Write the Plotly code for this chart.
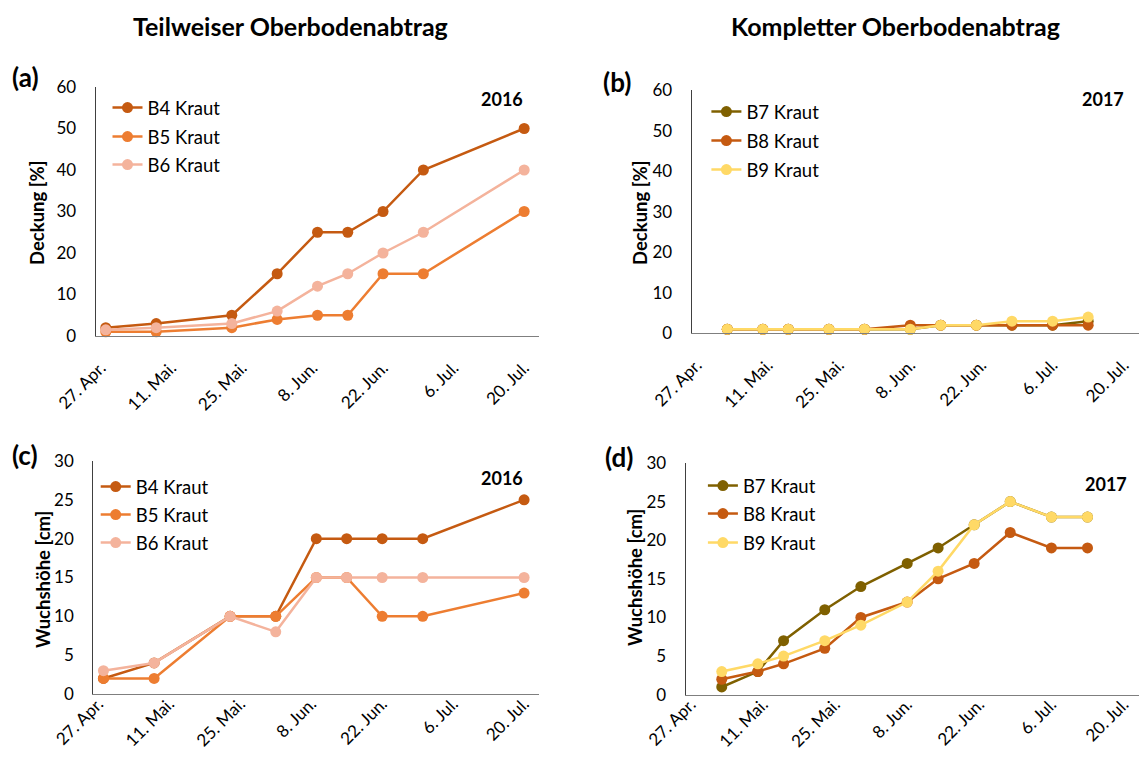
import plotly.graph_objects as go

# ---------------- data ----------------
dates_2016 = ["2016-04-28", "2016-05-08", "2016-05-23", "2016-06-01", "2016-06-09",
              "2016-06-15", "2016-06-22", "2016-06-30", "2016-07-20"]
dates_2017 = ["2017-05-03", "2017-05-10", "2017-05-15", "2017-05-23", "2017-05-30",
              "2017-06-08", "2017-06-14", "2017-06-21", "2017-06-28", "2017-07-06", "2017-07-13"]

# (a) Deckung 2016
a_B4 = [2, 3, 5, 15, 25, 25, 30, 40, 50]
a_B5 = [1, 1, 2, 4, 5, 5, 15, 15, 30]
a_B6 = [1.5, 2, 3, 6, 12, 15, 20, 25, 40]
# (b) Deckung 2017
b_B7 = [1, 1, 1, 1, 1, 1, 2, 2, 2, 2, 3]
b_B8 = [1, 1, 1, 1, 1, 2, 2, 2, 2, 2, 2]
b_B9 = [1, 1, 1, 1, 1, 1, 2, 2, 3, 3, 4]
# (c) Wuchshöhe 2016
c_B4 = [2, 4, 10, 10, 20, 20, 20, 20, 25]
c_B5 = [2, 2, 10, 10, 15, 15, 10, 10, 13]
c_B6 = [3, 4, 10, 8, 15, 15, 15, 15, 15]
# (d) Wuchshöhe 2017
d_B7 = [1, 3, 7, 11, 14, 17, 19, 22, 25, 23, 23]
d_B8 = [2, 3, 4, 6, 10, 12, 15, 17, 21, 19, 19]
d_B9 = [3, 4, 5, 7, 9, 12, 16, 22, 25, 23, 23]

tick_md = ["04-27", "05-11", "05-25", "06-08", "06-22", "07-06", "07-20"]
tick_text = ["27. Apr.", "11. Mai.", "25. Mai.", "8. Jun.", "22. Jun.", "6. Jul.", "20. Jul."]

titles = ["Teilweiser Oberbodenabtrag", "Kompletter Oberbodenabtrag"]
panel_labels = ["(a)", "(b)", "(c)", "(d)"]
years = ["2016", "2017", "2016", "2017"]
ytitles = ["Deckung [%]", "Deckung [%]", "Wuchshöhe [cm]", "Wuchshöhe [cm]"]

C_B4 = "#C55A11"
C_B5 = "#ED7D31"
C_B6 = "#F4B39C"
C_B7 = "#7F6000"
C_B8 = "#C55A11"
C_B9 = "#FFD966"

FONT = "Lato, 'Open Sans', sans-serif"
W, H = 1139, 763

def px(x):
    return x / W

def py(y):
    return 1 - y / H

fig = go.Figure()

# panel geometry (pixels): x0, x1, ytop, ybottom
geom = [
    (95.7, 539.3, 87, 336),
    (691.7, 1139, 90, 333.3),
    (93.3, 539.3, 461, 694),
    (685.7, 1139, 463, 694.7),
]

panels = [
    (dates_2016, [("B4 Kraut", a_B4, C_B4), ("B5 Kraut", a_B5, C_B5), ("B6 Kraut", a_B6, C_B6)], 60, 10, "2016"),
    (dates_2017, [("B7 Kraut", b_B7, C_B7), ("B8 Kraut", b_B8, C_B8), ("B9 Kraut", b_B9, C_B9)], 60, 10, "2017"),
    (dates_2016, [("B4 Kraut", c_B4, C_B4), ("B5 Kraut", c_B5, C_B5), ("B6 Kraut", c_B6, C_B6)], 30, 5, "2016"),
    (dates_2017, [("B7 Kraut", d_B7, C_B7), ("B8 Kraut", d_B8, C_B8), ("B9 Kraut", d_B9, C_B9)], 30, 5, "2017"),
]

# legend: left x of legend box, and item centre y for each of the three items
legend_x = [107.5, 706.4, 95.7, 702.9]
legend_y = [(108, 137, 165), (112, 141, 170), (487, 515, 543), (486, 514, 543)]
# extra shift of the x tick labels (bottom row labels come out lower otherwise)
label_standoff = [0, 0, -22, -22]

layout = {}
lcount = 0
for i, (dates, series, ymax, dt, yr) in enumerate(panels):
    n = i + 1
    xa = "x" if n == 1 else f"x{n}"
    ya = "y" if n == 1 else f"y{n}"
    for j, (name, vals, col) in enumerate(series):
        lcount += 1
        lg = "legend" if lcount == 1 else f"legend{lcount}"
        fig.add_trace(go.Scatter(
            x=dates, y=vals, name=name, mode="lines+markers",
            line=dict(color=col, width=2.5),
            marker=dict(color=col, size=11),
            xaxis=xa, yaxis=ya, legend=lg, cliponaxis=False, showlegend=True,
        ))
        layout[lg] = dict(
            x=px(legend_x[i]), y=py(legend_y[i][j]), xanchor="left", yanchor="middle",
            bgcolor="rgba(0,0,0,0)", font=dict(family=FONT, size=18.5, color="#000000"),
            itemwidth=30, borderwidth=0,
        )
    x0, x1, yt, yb = geom[i]
    xkey = "xaxis" if n == 1 else f"xaxis{n}"
    ykey = "yaxis" if n == 1 else f"yaxis{n}"
    layout[xkey] = dict(
        domain=[px(x0), px(x1)], anchor=ya, type="date", automargin=False,
        range=[f"{yr}-04-26", f"{yr}-07-23"],
        tickmode="array", tickvals=[f"{yr}-{m}" for m in tick_md], ticktext=tick_text,
        tickangle=-45, showgrid=False, zeroline=False,
        showline=True, linecolor="#7F7F7F", linewidth=1.3,
        ticks="outside", ticklen=14, tickcolor="rgba(0,0,0,0)",
        ticklabelstandoff=label_standoff[i],
        tickfont=dict(family=FONT, size=17, color="#000000"),
    )
    layout[ykey] = dict(
        domain=[py(yb), py(yt)], anchor=xa, range=[0, ymax], dtick=dt, tick0=0, automargin=False,
        showgrid=False, zeroline=False,
        showline=True, linecolor="#404040", linewidth=1.3,
        ticks="outside", ticklen=15, tickcolor="rgba(0,0,0,0)",
        tickfont=dict(family=FONT, size=17, color="#000000"),
    )

annotations = []
# main titles
annotations.append(dict(x=px(290), y=py(26), xref="paper", yref="paper", text=f"<b>{titles[0]}</b>",
                        showarrow=False, font=dict(family=FONT, size=25, color="#000"), xanchor="center", yanchor="middle"))
annotations.append(dict(x=px(895), y=py(26), xref="paper", yref="paper", text=f"<b>{titles[1]}</b>",
                        showarrow=False, font=dict(family=FONT, size=25, color="#000"), xanchor="center", yanchor="middle"))
label_pos = [(25, 77), (617, 82), (25, 455), (619, 457)]
year_pos = [(502, 99), (1103, 99), (502, 478), (1106, 484)]
ytitle_pos = [(37, 213), (640, 213), (43, 580), (635, 578)]
for i in range(4):
    lx, ly = label_pos[i]
    annotations.append(dict(x=px(lx), y=py(ly), xref="paper", yref="paper", text=f"<b>{panel_labels[i]}</b>",
                            showarrow=False, font=dict(family=FONT, size=26, color="#000"),
                            xanchor="center", yanchor="middle"))
    yx, yy = year_pos[i]
    annotations.append(dict(x=px(yx), y=py(yy), xref="paper", yref="paper", text=f"<b>{years[i]}</b>",
                            showarrow=False, font=dict(family=FONT, size=18, color="#000"),
                            xanchor="center", yanchor="middle"))
    tx, ty = ytitle_pos[i]
    annotations.append(dict(x=px(tx), y=py(ty), xref="paper", yref="paper", text=f"<b>{ytitles[i]}</b>",
                            showarrow=False, textangle=-90, font=dict(family=FONT, size=18.5, color="#000"),
                            xanchor="center", yanchor="middle"))

fig.update_layout(
    width=W, height=H, margin=dict(l=0, r=0, t=0, b=0, autoexpand=False),
    paper_bgcolor="white", plot_bgcolor="white", showlegend=True,
    font=dict(family=FONT, color="#000"),
    annotations=annotations, **layout,
)

fig.write_html("out.html", config={"displayModeBar": False},
               post_script="document.body.style.margin='0px';document.body.style.overflow='hidden';")
